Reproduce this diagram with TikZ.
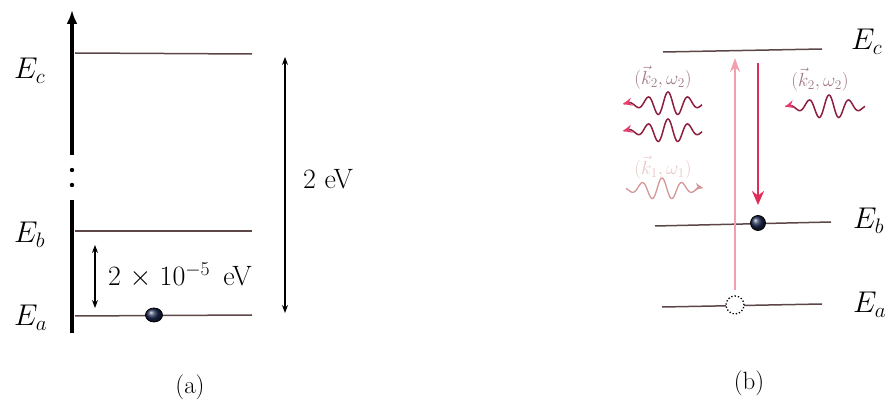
\RequirePackage{fix-cm}
\documentclass[tikz,border=0pt]{standalone}
\usetikzlibrary{arrows.meta,shapes.geometric}
\definecolor{levelc}{RGB}{92,70,72}
\definecolor{wavec}{RGB}{140,30,62}
\definecolor{tipc}{RGB}{232,60,110}
\definecolor{downc}{RGB}{226,44,88}
\definecolor{upc}{RGB}{242,160,172}
\definecolor{lightwavec}{RGB}{212,150,150}
\definecolor{lightlabc}{RGB}{232,198,198}
\definecolor{labc}{RGB}{160,118,132}
\definecolor{elecc}{RGB}{28,40,78}
\begin{document}
\begin{tikzpicture}[x=1pt,y=-1pt,
  level/.style={levelc, line width=1.5pt},
  elabel/.style={font=\fontsize{30}{34}\selectfont, inner sep=0pt},
  txtlabel/.style={font=\fontsize{28}{32}\selectfont, inner sep=0pt},
  caplabel/.style={font=\fontsize{25}{29}\selectfont, inner sep=0pt},
  wlabel/.style={font=\fontsize{19}{22}\selectfont, inner sep=0pt},
  dimarrow/.style={black, line width=1.1pt, {Stealth[length=8pt,width=6pt]}-{Stealth[length=8pt,width=6pt]}},
  axisline/.style={black, line width=3.5pt},
  wavepk/.style={wavec, line width=1.5pt},
  electron/.style={circle, draw=black, line width=0.8pt, ball color=elecc, inner sep=0pt},
]
\useasboundingbox (0,0) rectangle (889,403);

% ---------------- panel (a) ----------------
\coordinate (axbot) at (72,333);
\coordinate (axlow) at (72,200);
\coordinate (axup) at (72,155);
\coordinate (axtop) at (72,10);
\draw[axisline] (axbot) -- (axlow);
\draw[axisline, -{Latex[length=14pt,width=11pt]}] (axup) -- (axtop);
\fill (72,170) circle (2.2pt);
\fill (72,185) circle (2.2pt);

\coordinate (aEc1) at (75,53);  \coordinate (aEc2) at (252,54);
\coordinate (aEb1) at (75,231); \coordinate (aEb2) at (252,231);
\coordinate (aEa1) at (75,316); \coordinate (aEa2) at (252,315);
\draw[level] (aEc1) -- (aEc2);
\draw[level] (aEb1) -- (aEb2);
\draw[level] (aEa1) -- (aEa2);

\node[elabel, anchor=base west] (laEc) at (14,79) {$E_c$};
\node[elabel, anchor=base west] (laEb) at (14,243) {$E_b$};
\node[elabel, anchor=base west] (laEa) at (14,326) {$E_a$};

\node[electron, ellipse, minimum width=17pt, minimum height=14pt] (ea) at (154,315) {};

\coordinate (big1) at (285,57);
\coordinate (big2) at (285,313);
\draw[dimarrow] (big1) -- (big2);
\node[txtlabel, anchor=base west] (l2eV) at (303,189) {2 eV};

\coordinate (sm1) at (95,245);
\coordinate (sm2) at (95,308);
\draw[dimarrow] (sm1) -- (sm2);
\node[txtlabel, anchor=base west] (lsm) at (108,286) {2 $\times$ 10$^{-5}$\, eV};

\node[caplabel] (capa) at (190,387) {(a)};

% ---------------- panel (b) ----------------
\coordinate (bEc1) at (663,52);  \coordinate (bEc2) at (822,49);
\coordinate (bEb1) at (655,226); \coordinate (bEb2) at (831,222);
\coordinate (bEa1) at (662,307); \coordinate (bEa2) at (822,304);
\draw[level] (bEc1) -- (bEc2);
\draw[level] (bEb1) -- (bEb2);
\draw[level] (bEa1) -- (bEa2);

\node[elabel, anchor=base west] (lbEc) at (851,50) {$E_c$};
\node[elabel, anchor=base west] (lbEb) at (853,229) {$E_b$};
\node[elabel, anchor=base west] (lbEa) at (853,313) {$E_a$};

% hole (empty state) on E_a and electron on E_b
\node[circle, fill=white, draw=black, dotted, line width=1.3pt, minimum size=18pt, inner sep=0pt] (hole) at (735,305) {};
\node[electron, minimum size=15pt] (eb) at (758,223) {};

% absorption (up) and emission (down) arrows
\coordinate (uptop) at (735,58);
\coordinate (upbot) at (735,290);
\draw[upc, line width=1.6pt, -{Stealth[length=14pt,width=10pt]}] (upbot) -- (uptop);
\coordinate (dntop) at (758,63);
\coordinate (dnbot) at (758,205);
\draw[downc, line width=2.2pt, -{Stealth[length=14pt,width=12pt]}] (dntop) -- (dnbot);

% wave packets
\draw[wavepk, arrows={Stealth[length=9pt,width=8pt,color=tipc]-}, shift={(668,104)}]
  plot[domain=-45:34, samples=120] (\x,{-12*exp(-\x*\x/729)*sin(18*(\x+5))});
\draw[wavepk, arrows={Stealth[length=9pt,width=8pt,color=tipc]-}, shift={(668,131)}]
  plot[domain=-45:34, samples=120] (\x,{-12*exp(-\x*\x/729)*sin(18*(\x+5))});
\draw[wavepk, arrows={Stealth[length=9pt,width=8pt,color=tipc]-}, shift={(829,107)}]
  plot[domain=-44:36, samples=120] (\x,{-12*exp(-\x*\x/729)*sin(18*(\x+5))});
\draw[lightwavec, line width=1.3pt, arrows={-Stealth[length=8pt,width=7pt]}, shift={(662,189)}]
  plot[domain=-36:41, samples=120] (\x,{-11*exp(-\x*\x/729)*sin(18*(\x+5))});

\node[wlabel, text=labc] (lk2a) at (663,78) {$(\vec{k}_2,\omega_2)$};
\node[wlabel, text=labc] (lk2b) at (820,80) {$(\vec{k}_2,\omega_2)$};
\node[wlabel, text=lightlabc] (lk1) at (663,168) {$(\vec{k}_1,\omega_1)$};

\node[caplabel] (capb) at (749,383) {(b)};
\end{tikzpicture}
\end{document}
